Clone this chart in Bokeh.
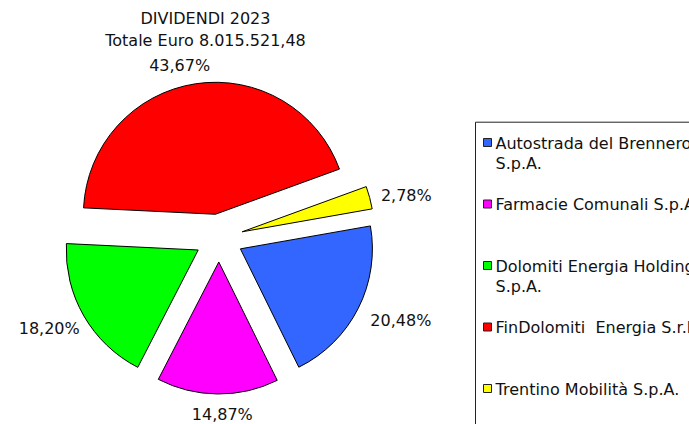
import numpy as np
from bokeh.plotting import figure
from bokeh.models import Range1d, ColumnDataSource
from bokeh.core.properties import value
from bokeh.embed import file_html
from bokeh.resources import INLINE

# ---- data ----
title_lines = ["DIVIDENDI 2023", "Totale Euro 8.015.521,48"]
companies = ["Autostrada del Brennero S.p.A.", "Farmacie Comunali S.p.A.",
             "Dolomiti Energia Holding S.p.A.", "FinDolomiti  Energia S.r.l.",
             "Trentino Mobilità S.p.A."]
legend_labels = ["Autostrada del Brennero\nS.p.A.", "Farmacie Comunali S.p.A.",
                 "Dolomiti Energia Holding\nS.p.A.", "FinDolomiti\u00a0 Energia S.r.l.",
                 "Trentino Mobilità S.p.A."]
shares = [20.48, 14.87, 18.20, 43.67, 2.78]
colors = ["#3366FF", "#FF00FF", "#00FF00", "#FF0000", "#FFFF00"]

# ---- layout ----
W, H = 689, 424
FONT = value("DejaVu Sans")
FS = "16px"
cx, cy = 218.5, 186.5
R = 132
EXPLODE = 24
START_DEG = 10.0
GAP = 10

shares_arr = np.array(shares)
cum = np.concatenate([[0], np.cumsum(shares_arr)[:-1]])
hi = np.deg2rad(START_DEG - cum * 3.6)
lo = hi - np.deg2rad(shares_arr * 3.6)
mid = (hi + lo) / 2
xs = cx + EXPLODE * np.cos(mid)
ys = cy + EXPLODE * np.sin(mid)

pct_text = [f"{v:.2f}".replace(".", ",") + "%" for v in shares]
hw, hh = 30, 8
d = R + EXPLODE + GAP
lx = cx + d * np.cos(mid) + hw * np.cos(mid)
ly = cy + d * np.sin(mid) + hh * np.sin(mid)
# small placement nudges (label box alignment as in the original)
nudge_x = [7, 5, 0, -10, -2]
nudge_y = [-4, -3, -4, 0, -3]
lx = lx + np.array(nudge_x)
ly = ly + np.array(nudge_y)

p = figure(width=W, height=H, x_range=Range1d(0, W), y_range=Range1d(0, H),
           x_axis_type=None, y_axis_type=None, toolbar_location=None,
           output_backend="svg", min_border=0, outline_line_color=None)

src = ColumnDataSource(dict(x=xs, y=ys, start=lo, end=hi, color=colors, name=companies))
p.wedge(x="x", y="y", radius=R, start_angle="start", end_angle="end",
        fill_color="color", line_color="black", line_width=1, source=src)

p.text(x=lx, y=ly, text=pct_text, text_font=FONT, text_font_size=FS,
       text_align="center", text_baseline="middle", text_color="#111111")

# title
p.text(x=[205, 205], y=[406, 384], text=title_lines, text_font=FONT, text_font_size=FS,
       text_align="center", text_baseline="middle", text_color="#111111")

# legend box
p.quad(left=[475], right=[W + 20], top=[302.3], bottom=[-20],
       fill_color="white", line_color="#222222", line_width=1)
entry_y = 282 - np.arange(len(companies)) * 61.5
p.scatter(x=[487] * len(companies), y=entry_y, marker="square", size=8,
          fill_color=colors, line_color="#222222", line_width=1)
p.text(x=[495] * len(companies), y=entry_y + 9, text=legend_labels, text_font=FONT,
       text_font_size=FS, text_align="left", text_baseline="top", text_color="#111111",
       text_line_height=1.1)

open("out.html", "w").write(file_html(p, INLINE))
